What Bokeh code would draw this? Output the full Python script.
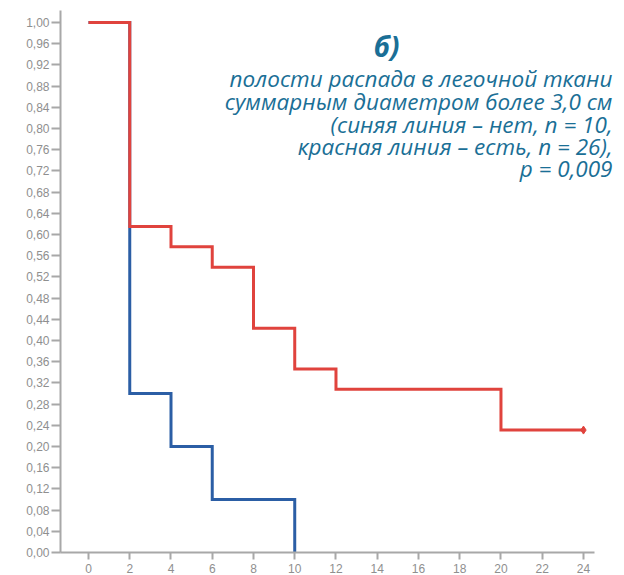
from bokeh.plotting import figure
from bokeh.models import Range1d, FixedTicker, CustomJSTickFormatter, Label
from bokeh.embed import file_html
from bokeh.resources import INLINE

# Data (Kaplan-Meier style survival curves)
red_t = [0, 2, 4, 6, 8, 10, 12, 20, 24]
red_s = [1.0, 0.615, 0.577, 0.538, 0.423, 0.346, 0.308, 0.231, 0.231]
blue_t = [0, 2, 4, 6, 10]
blue_s = [1.0, 0.30, 0.20, 0.10, 0.0]

x_ticks = [0, 2, 4, 6, 8, 10, 12, 14, 16, 18, 20, 22, 24]
y_ticks = [0.00, 0.04, 0.08, 0.12, 0.16, 0.20, 0.24, 0.28, 0.32, 0.36, 0.40,
           0.44, 0.48, 0.52, 0.56, 0.60, 0.64, 0.68, 0.72, 0.76, 0.80, 0.84,
           0.88, 0.92, 0.96, 1.00]

title_text = "б)"
caption_lines = [
    "полости распада в легочной ткани",
    "суммарным диаметром более 3,0 см",
    "(синяя линия – нет, n = 10,",
    "красная линия – есть, n = 26),",
    "p = 0,009",
]

RED = "#e0433d"
BLUE = "#2b5ea5"
TXT = "#1a6f96"
AX = "#a8a8a8"

X0, X1 = -1.358, 25.99
p = figure(width=624, height=575, output_backend="svg", toolbar_location=None,
           x_range=Range1d(X0, X1), y_range=Range1d(0, 1.0226),
           min_border_left=60, min_border_right=0, min_border_top=10,
           min_border_bottom=22)
p.outline_line_color = None
p.xgrid.visible = False
p.ygrid.visible = False
p.background_fill_color = "white"
p.border_fill_color = "white"

for ax in (p.xaxis[0], p.yaxis[0]):
    ax.axis_line_color = AX
    ax.axis_line_width = 2
    ax.major_tick_line_color = AX
    ax.major_tick_line_width = 2
    ax.minor_tick_line_color = None
    ax.major_tick_in = 0
    ax.major_label_text_color = "#8f8f8f"
    ax.major_label_text_font = "Liberation Sans"
    ax.major_label_text_font_size = "12px"

p.xaxis.ticker = FixedTicker(ticks=x_ticks)
p.xaxis.major_tick_out = 7
p.xaxis.major_label_standoff = 4
p.xaxis.bounds = (X0, 24.53)
p.yaxis.ticker = FixedTicker(ticks=y_ticks)
p.yaxis.major_tick_out = 9
p.yaxis.major_label_standoff = 2
p.yaxis.formatter = CustomJSTickFormatter(code="return tick.toFixed(2).replace('.', ',');")

p.step(blue_t, blue_s, mode="after", line_color=BLUE, line_width=3, line_join="miter")
p.step(red_t, red_s, mode="after", line_color=RED, line_width=3, line_join="miter")
p.scatter([red_t[-1]], [red_s[-1]], marker="diamond", size=8, color=RED)

def dx(px):
    return (px - 88) / 20.625

def dy(py):
    return (552 - py) / 530.0

p.add_layout(Label(x=dx(386), y=dy(46), text=title_text, text_align="center",
                   text_baseline="middle", text_font="Open Sans",
                   text_font_style="bold italic", text_font_size="28px",
                   text_color=TXT))
ys = [78, 101, 124, 146, 168]
for line, yy in zip(caption_lines, ys):
    p.add_layout(Label(x=dx(612), y=dy(yy), text=line, text_align="right",
                       text_baseline="middle", text_font="Open Sans",
                       text_font_style="italic", text_font_size="22.5px",
                       text_color=TXT))

open("out.html", "w").write(file_html(p, INLINE))
